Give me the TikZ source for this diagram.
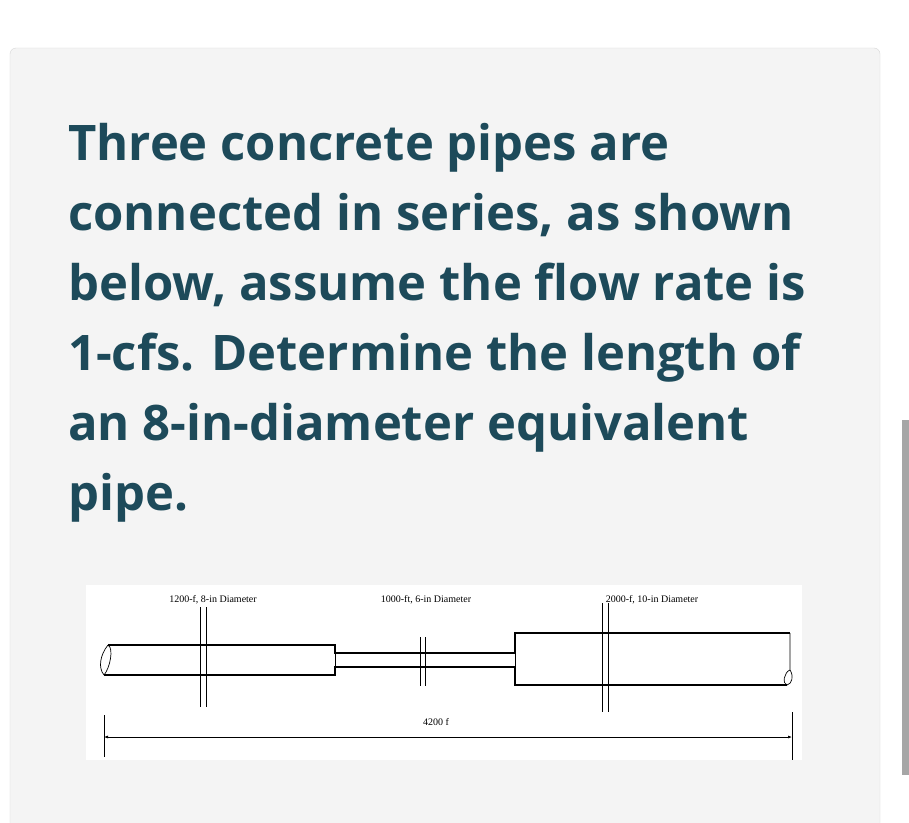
\documentclass[tikz,border=0pt]{standalone}
\usepackage{fontspec}
\usetikzlibrary{arrows.meta}
\setmainfont{Liberation Serif}
\newfontfamily\qfont{Open Sans}
\begin{document}
\begin{tikzpicture}[x=1pt,y=-1pt,
  qline/.style={anchor=base west,inner sep=0,text=qcol,font=\qfont\bfseries\fontsize{49}{49}\selectfont},
  pipe/.style={line width=2.2pt},
  thin/.style={line width=0.7pt},
  lab/.style={font=\fontsize{10}{10}\selectfont,inner sep=1pt}]
\definecolor{qcol}{HTML}{1D4A5A}
\fill[white] (0,0) rectangle (909,822);
\useasboundingbox (0,0) rectangle (909,822);
\draw[fill={rgb,255:red,244;green,244;blue,244},draw={rgb,255:red,215;green,215;blue,215},rounded corners=6] (10,48) rectangle (880,840);
\fill[gray!70] (902,420) rectangle (909,775);
\node[qline] (l1) at (68,160) {Three concrete pipes are};
\node[qline] (l2) at (68,230) {connected in series, as shown};
\node[qline] (l3) at (68,300) {below, assume the flow rate is};
\node[qline] (l4) at (68,370) {1-cfs. Determine the length of};
\node[qline] (l5) at (68,440) {an 8-in-diameter equivalent};
\node[qline] (l6) at (68,510) {pipe.};
\fill[white] (86,585) rectangle (802,760);
% pipes
\draw[pipe] (108,645) -- (335,645) -- (335,653) -- (515,653) -- (515,633) -- (790,633);
\draw[pipe] (104,675) -- (335,675) -- (335,667) -- (515,667) -- (515,685) -- (787,685);
\draw[thin] (335,645) -- (335,675);
\draw[thin] (515,633) -- (515,685);
% break marks
\draw[thin] (108,645) .. controls (100,655) and (98,668) .. (104,675);
\draw[thin] (108,645) .. controls (114,648) and (110,668) .. (104,675);
\draw[thin] (790,633) -- (790,670) .. controls (794,676) and (792,684) .. (787,685);
\draw[thin] (790,670) .. controls (784,672) and (782,684) .. (787,685);
% section marks
\foreach \x/\a/\b in {200/607/707,206/607/707,420/637/686,425/637/686,602/603/712,608/603/712}
  \draw[thin] (\x,\a) -- (\x,\b);
% dimension
\coordinate (dL) at (104,737); \coordinate (dR) at (792,737);
\draw[thin,{Latex[length=4pt,width=3pt]}-{Latex[length=4pt,width=3pt]}] (dL) -- (dR);
\draw[thin] (104,715) -- (104,757);
\draw[thin] (792,712) -- (792,760);
\node[lab] (t0) at (436,722) {4200 f};
\node[lab] (t1) at (213,600) {1200-f, 8-in Diameter};
\node[lab] (t2) at (426,600) {1000-ft, 6-in Diameter};
\node[lab] (t3) at (652,600) {2000-f, 10-in Diameter};
\end{tikzpicture}
\end{document}
